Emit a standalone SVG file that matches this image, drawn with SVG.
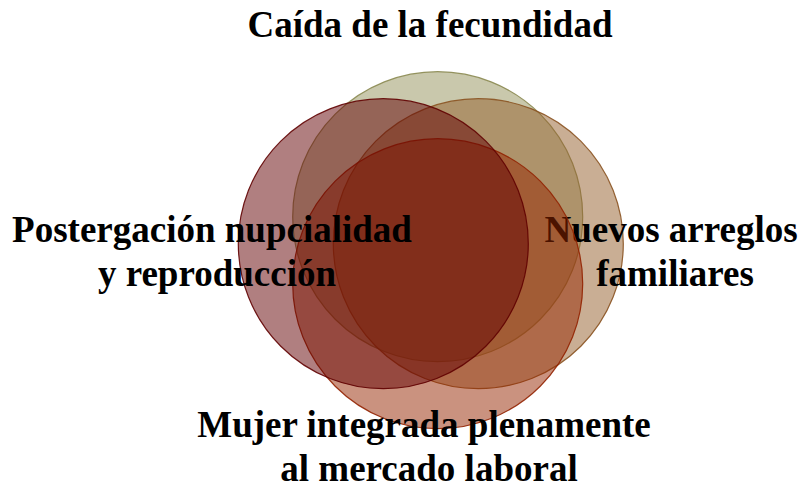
<svg xmlns="http://www.w3.org/2000/svg" width="800" height="489" viewBox="0 0 800 489">
<style>
.lbl{font-family:"Liberation Serif","Times New Roman",serif;font-weight:bold;font-size:37px;fill:#000;text-anchor:middle}
.c{fill-opacity:0.5;stroke-width:1.2;stroke-opacity:0.9}
</style>
<rect width="800" height="489" fill="#fff"/>
<g id="node-top">
<circle class="c" cx="437.7" cy="216.7" r="145" fill="#939159" stroke="#8a8850"/>
<text class="lbl" x="430" y="37">Caída de la fecundidad</text>
</g>
<g id="node-right">
<circle class="c" cx="478.3" cy="243.7" r="145" fill="#935D29" stroke="#8a5220"/>
<text class="lbl" x="671" y="242">Nuevos arreglos</text>
<text class="lbl" x="675" y="286">familiares</text>
</g>
<g id="node-bottom">
<circle class="c" cx="437.7" cy="283.7" r="145" fill="#962500" stroke="#922200"/>
<text class="lbl" x="424" y="437">Mujer integrada plenamente</text>
<text class="lbl" x="429" y="481">al mercado laboral</text>
</g>
<g id="node-left">
<circle class="c" cx="383.3" cy="243.7" r="145" fill="#610001" stroke="#600000"/>
<text class="lbl" x="212" y="242">Postergación nupcialidad</text>
<text class="lbl" x="217" y="286">y reproducción</text>
</g>
<g id="connectors"/>
</svg>
